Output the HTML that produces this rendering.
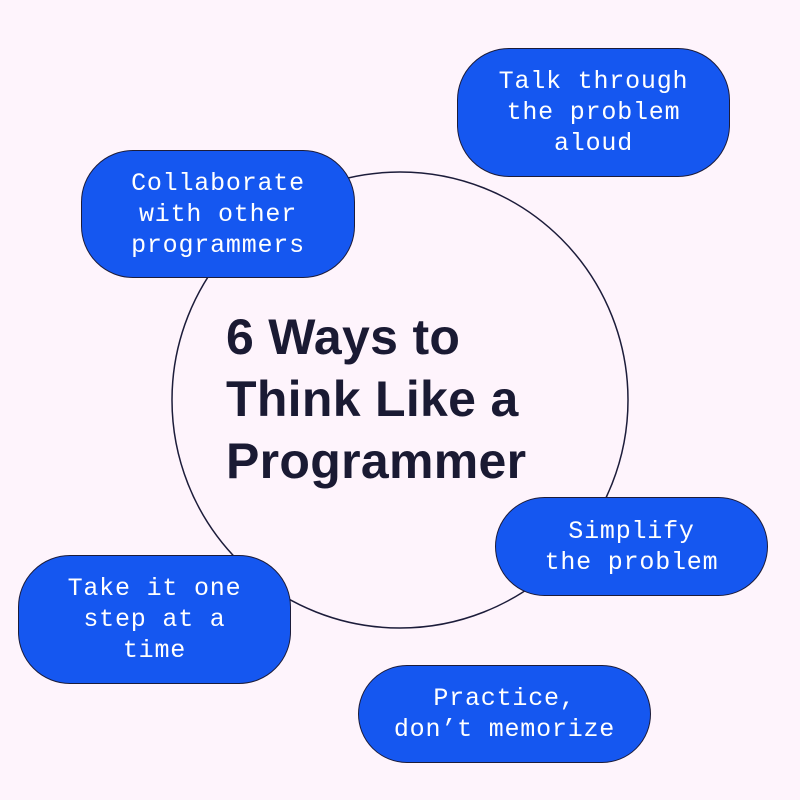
<!DOCTYPE html>
<html><head><style>
body{margin:0;width:800px;height:800px;background:#fef4fc;position:relative;overflow:hidden}
.p{position:absolute;box-sizing:border-box;background:#1557f0;border:1.5px solid #1c1c3a;border-radius:52px;display:flex;align-items:center;justify-content:center;text-align:center;color:#fff;font-family:"Liberation Mono",monospace;font-size:25px;line-height:31px;letter-spacing:0.8px}
.t{position:absolute;left:226px;top:306px;font-family:"Liberation Sans",sans-serif;font-weight:bold;font-size:50px;line-height:62px;color:#1a1a33;letter-spacing:0.3px}
</style></head><body>
<svg width="800" height="800" style="position:absolute;left:0;top:0"><circle cx="400" cy="400" r="228" fill="none" stroke="#1c1c3a" stroke-width="1.5"/></svg>
<div class="t">6 Ways to<br>Think Like a<br>Programmer</div>
<div class="p" style="left:457px;top:48px;width:273px;height:129px">Talk through<br>the problem<br>aloud</div>
<div class="p" style="left:81px;top:150px;width:274px;height:128px">Collaborate<br>with other<br>programmers</div>
<div class="p" style="left:495px;top:497px;width:273px;height:99px">Simplify<br>the problem</div>
<div class="p" style="left:18px;top:555px;width:273px;height:129px">Take it one<br>step at a<br>time</div>
<div class="p" style="left:358px;top:665px;width:293px;height:98px">Practice,<br>don’t memorize</div>
</body></html>
